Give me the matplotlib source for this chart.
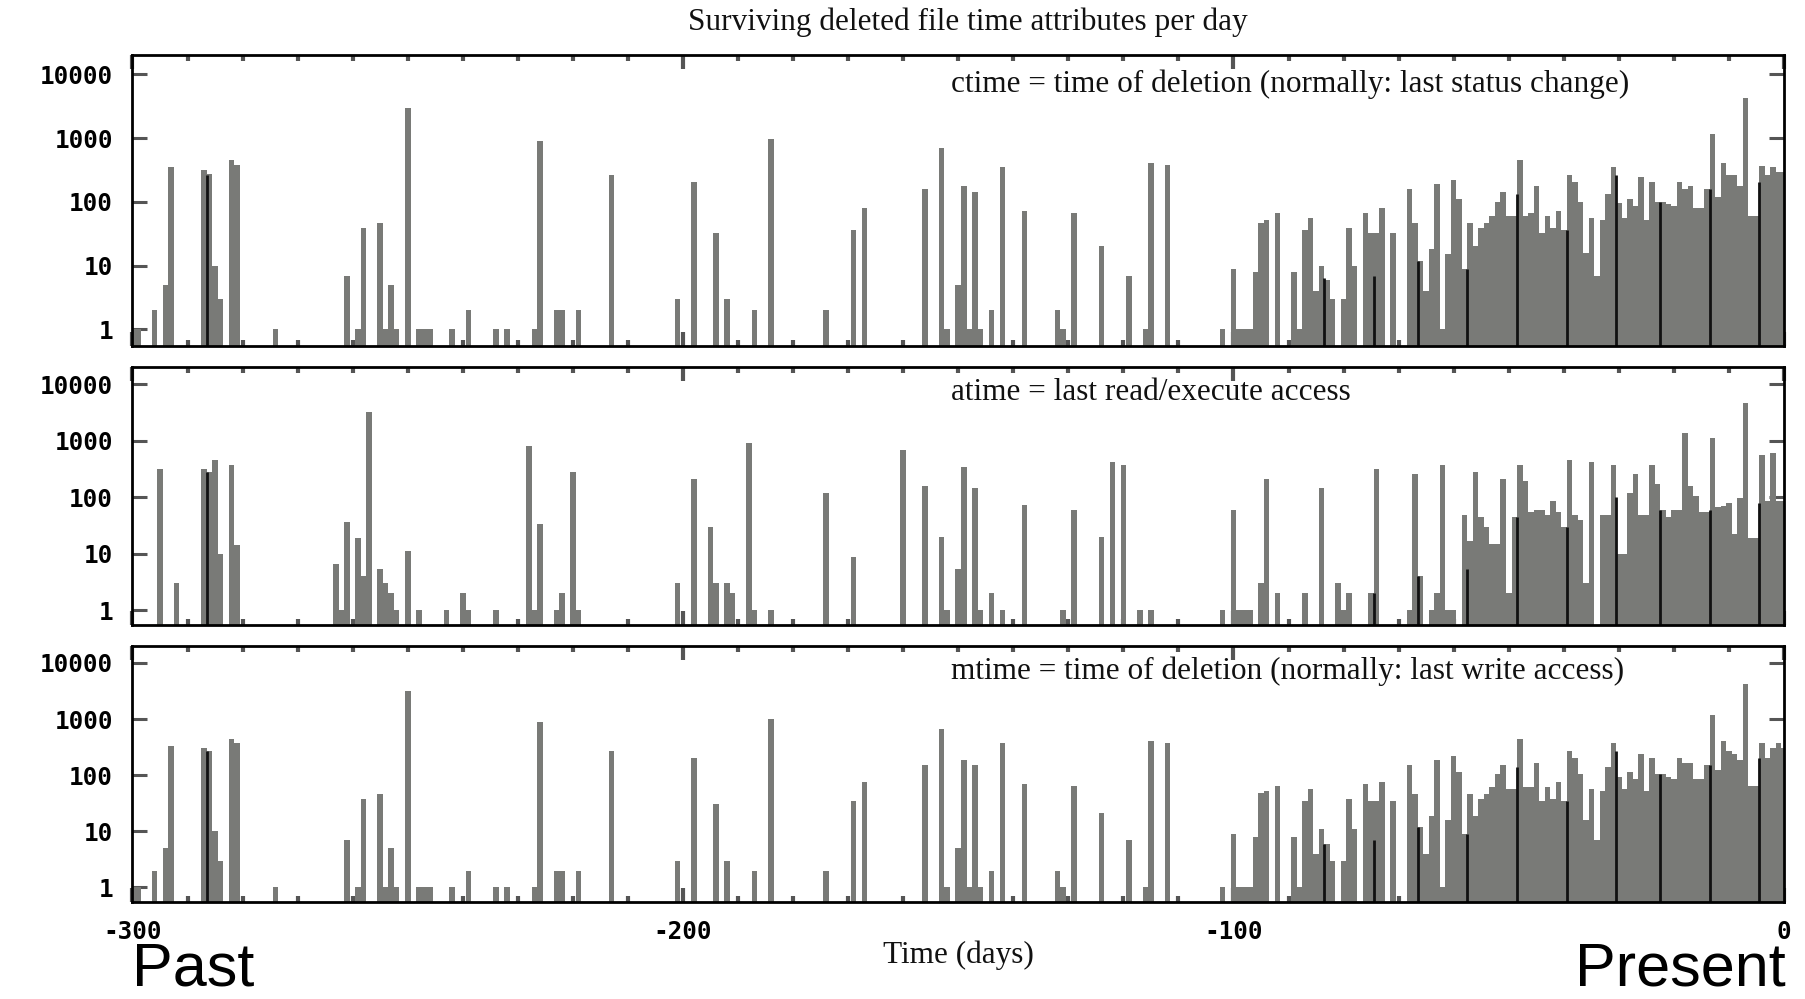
import numpy as np
import matplotlib
matplotlib.use("Agg")
import matplotlib.pyplot as plt
from matplotlib.ticker import FixedLocator, MultipleLocator, NullLocator

# ------------------------------------------------------------
# data: day (relative to present) and number of files that day
# ------------------------------------------------------------
ctime_days = [-300, -299, -296, -294, -293, -287, -286, -285, -284, -282, -281, -274,
              -261, -259, -258, -255, -254, -253, -252, -250, -248, -247, -246, -242,
              -239, -234, -232, -227, -226, -223, -222, -219, -213, -201, -198, -194,
              -192, -187, -184, -174, -169, -167, -156, -153, -152, -150, -149, -148,
              -147, -146, -144, -142, -138, -132, -131, -129, -124, -119, -116, -115,
              -112,
              -102, -100, -99, -98, -97, -96, -95, -94, -92, -89, -88, -87, -86, -85,
              -84, -83, -82, -80, -79, -78, -76, -75, -74, -73, -71, -68, -67, -66,
              -65, -64, -63, -62, -61, -60, -59, -58, -57, -56, -55, -54, -53, -52,
              -51, -50, -49, -48, -47, -46, -45, -44, -43, -42, -41, -40, -39, -38,
              -37, -36, -35, -34, -33, -32, -31, -30, -29, -28, -27, -26, -25, -24,
              -23, -22, -21, -20, -19, -18, -17, -16, -15, -14, -13, -12, -11, -10,
              -9, -8, -7, -6, -5, -4, -3, -2, -1, 0]
ctime_counts = [1, 1, 2, 5, 350, 310, 270, 10, 3, 450, 380, 1,
                7, 1, 39, 47, 1, 5, 1, 3000, 1, 1, 1, 1,
                2, 1, 1, 1, 900, 2, 2, 2, 260, 3, 205, 33,
                3, 2, 980, 2, 36, 80, 158, 705, 1, 5, 175, 1,
                145, 1, 2, 350, 72, 2, 1, 66, 20, 7, 1, 405,
                375,
                1, 9, 1, 1, 1, 8, 47, 51, 66, 8, 1, 36, 56, 4,
                10, 6, 3, 3, 39, 10, 66, 33, 33, 79, 33, 158, 46, 12,
                4, 18, 190, 1, 15, 220, 111, 9, 47, 20, 39, 47, 61, 100,
                145, 61, 61, 450, 61, 66, 175, 33, 61, 39, 72, 36, 265, 205,
                100, 16, 55, 7, 51, 133, 350, 95, 56, 111, 87, 245, 51, 205,
                100, 100, 93, 87, 205, 158, 175, 79, 79, 157, 1150, 121, 405, 265,
                265, 175, 4200, 61, 61, 370, 265, 350, 290, 290]

atime_days = [-295, -292, -287, -286, -285, -284, -282, -281, -263, -262, -261, -259,
              -258, -257, -255, -254, -253, -252, -250, -248, -243, -240, -239, -234,
              -228, -227, -226, -223, -222, -220, -219,
              -201, -198, -195, -194, -192, -191, -188, -187, -184, -174, -169, -160,
              -156, -153, -152, -150, -149, -147, -146, -144, -142, -138, -131, -129,
              -124, -122, -120, -117, -115,
              -102, -100, -99, -98, -97, -95, -94, -92, -87, -84, -81, -80, -79, -75,
              -74, -68, -67, -66, -64, -63, -62, -61, -60, -58, -57, -56, -55, -54,
              -53, -52, -51, -50, -49, -48, -47, -46, -45, -44, -43, -42, -41, -40,
              -39, -38, -37, -36, -35, -33, -32, -31, -30, -29, -28, -27, -26, -25,
              -24, -23, -22, -21, -20, -19, -18, -17, -16, -15, -14, -13, -12, -11,
              -10, -9, -8, -7, -6, -5, -4, -3, -2, -1, 0]
atime_counts = [316, 3, 316, 280, 460, 10, 377, 14, 6.5, 1, 37, 19,
                4, 3160, 5.3, 3, 2, 1, 11, 1, 1, 2, 1, 1,
                815, 1, 34, 1, 2, 283, 1,
                3, 210, 30, 3, 3, 2, 890, 1, 1, 118, 8.7, 680,
                156, 20, 1, 5.3, 340, 144, 1, 2, 1, 73, 1, 60,
                20, 414, 377, 1, 1,
                1, 60, 1, 1, 1, 3, 210, 2, 2, 144, 3, 1, 2, 2,
                316, 1, 257, 4, 1, 2, 377, 1, 1, 49, 17, 283, 45, 30,
                15, 15, 210, 2, 45, 377, 191, 54, 60, 60, 49, 87, 54, 30,
                457, 49, 40, 3, 414, 49, 49, 377, 10, 10, 117, 257, 49, 49,
                377, 172, 60, 45, 60, 60, 1350, 156, 107, 54, 54, 1100, 66, 71,
                80, 22, 97, 4600, 19, 19, 560, 87, 600, 87, 87]

mtime_days = [-300, -299, -296, -294, -293, -287, -286, -285, -284, -282, -281, -274,
              -261, -259, -258, -255, -254, -253, -252, -250, -248, -247, -246, -242,
              -239, -234, -232, -227, -226, -223, -222, -219, -213, -201, -198, -194,
              -192, -187, -184, -174, -169, -167, -156, -153, -152, -150, -149, -148,
              -147, -146, -144, -142, -138, -132, -131, -129, -124, -119, -116, -115,
              -112,
              -102, -100, -99, -98, -97, -96, -95, -94, -92, -89, -88, -87, -86, -85,
              -84, -83, -82, -80, -79, -78, -76, -75, -74, -73, -71, -68, -67, -66,
              -65, -64, -63, -62, -61, -60, -59, -58, -57, -56, -55, -54, -53, -52,
              -51, -50, -49, -48, -47, -46, -45, -44, -43, -42, -41, -40, -39, -38,
              -37, -36, -35, -34, -33, -32, -31, -30, -29, -28, -27, -26, -25, -24,
              -23, -22, -21, -20, -19, -18, -17, -16, -15, -14, -13, -12, -11, -10,
              -9, -8, -7, -6, -5, -4, -3, -2, -1, 0]
mtime_counts = [1, 1, 2, 5, 330, 300, 270, 10, 3, 440, 370, 1,
                7, 1, 38, 47, 1, 5, 1, 3150, 1, 1, 1, 1,
                2, 1, 1, 1, 890, 2, 2, 2, 270, 3, 204, 31,
                3, 2, 1020, 2, 35, 76, 150, 660, 1, 5, 184, 1,
                150, 1, 2, 368, 69, 2, 1, 64, 21, 7, 1, 400,
                368,
                1, 9, 1, 1, 1, 8, 48, 52, 64, 8, 1, 35, 56, 4,
                11, 6, 3, 3, 38, 11, 69, 35, 35, 76, 35, 150, 47, 12,
                4, 19, 184, 1, 16, 220, 112, 9, 47, 19, 38, 47, 62, 103,
                150, 56, 56, 440, 62, 62, 166, 35, 62, 38, 76, 35, 266, 204,
                103, 16, 56, 7, 52, 137, 368, 93, 56, 112, 84, 243, 52, 204,
                103, 103, 93, 84, 204, 166, 166, 84, 84, 150, 1170, 123, 400, 266,
                243, 184, 4200, 64, 64, 368, 204, 300, 368, 300]

# dark box borders that show through between some bars
ctime_edge_days = [-286.5, -83.5, -74.5, -66.5, -57.5, -48.5, -39.5, -30.5, -22.5, -13.5, -4.5]
ctime_edge_vals = [267, 6.4, 7, 12, 9, 133, 36, 265, 100, 157, 207]
atime_edge_days = [-286.5, -74.5, -66.5, -57.5, -48.5, -39.5, -30.5, -22.5, -13.5, -4.5]
atime_edge_vals = [280, 2, 4, 5.3, 45, 30, 100, 60, 60, 80]
mtime_edge_days = [-286.5, -83.5, -74.5, -66.5, -57.5, -48.5, -39.5, -30.5, -22.5, -13.5, -4.5]
mtime_edge_vals = [270, 6, 7, 12, 9, 137, 35, 270, 103, 150, 204]

labels = ["ctime = time of deletion (normally: last status change)",
          "atime = last read/execute access",
          "mtime = time of deletion (normally: last write access)"]

y_ticks = [1, 10, 100, 1000, 10000]
y_ticklabels = ["1", "10", "100", "1000", "10000"]
x_ticks = [-300, -200, -100, 0]
x_ticklabels = ["-300", "-200", "-100", "0"]

# ------------------------------------------------------------
# plot
# ------------------------------------------------------------
W, H = 1806, 999
fig = plt.figure(figsize=(W / 100, H / 100), dpi=100)

bar_color = "#797a77"
tick_color = "#555555"
serif = ["Liberation Serif", "DejaVu Serif"]
mono = "DejaVu Sans Mono"
ymin, ymax = 0.55, 20000
serif_size = 22.5
mono_size = 17.5

# axes boxes in pixels: (top, bottom)
boxes = [(55, 346), (367, 625), (646, 902)]
left_px, right_px = 132.5, 1784

panels = [(ctime_days, ctime_counts, ctime_edge_days, ctime_edge_vals),
          (atime_days, atime_counts, atime_edge_days, atime_edge_vals),
          (mtime_days, mtime_counts, mtime_edge_days, mtime_edge_vals)]

for i, (days, counts, e_days, e_vals) in enumerate(panels):
    top, bot = boxes[i]
    ax = fig.add_axes([left_px / W, 1 - bot / H, (right_px - left_px) / W, (bot - top) / H])

    ax.bar(days, counts, width=1.0, color=bar_color, edgecolor="none", log=True, zorder=2)
    ax.vlines(e_days, ymin, e_vals, color="#111111", linewidth=2.0, zorder=3)

    ax.set_xlim(-300, 0)
    ax.set_ylim(ymin, ymax)

    ax.yaxis.set_major_locator(FixedLocator(y_ticks))
    ax.yaxis.set_minor_locator(NullLocator())
    ax.set_yticklabels(y_ticklabels, fontfamily=mono, fontweight="bold", fontsize=mono_size)

    ax.xaxis.set_major_locator(FixedLocator(x_ticks))
    ax.xaxis.set_minor_locator(MultipleLocator(10))
    if i == 2:
        ax.set_xticklabels(x_ticklabels, fontfamily=mono, fontweight="bold", fontsize=mono_size)
    else:
        ax.set_xticklabels([])

    ax.tick_params(axis="y", which="major", direction="in", left=True, right=True,
                   length=11, width=2.2, color=tick_color, pad=14)
    ax.tick_params(axis="x", which="major", direction="in", top=True, bottom=True,
                   length=10, width=3, color=tick_color, pad=13)
    ax.tick_params(axis="x", which="minor", direction="in", top=True, bottom=True,
                   length=4.5, width=3, color=tick_color)

    for s in ax.spines.values():
        s.set_linewidth(2.0)
        s.set_color("black")
        s.set_zorder(4)

    ax.text(0.4956, 0.90, labels[i], transform=ax.transAxes, ha="left", va="center",
            fontfamily=serif, fontsize=serif_size, color="#111111")

fig.text(958 / W, 1 - 955 / H, "Time (days)", ha="center", va="center",
         fontfamily=serif, fontsize=serif_size, color="#111111")

fig.text(968 / W, 1 - 22 / H, "Surviving deleted file time attributes per day",
         ha="center", va="center", fontfamily=serif, fontsize=serif_size, color="#111111")

fig.text(132 / W, 0.001, "Past", ha="left", va="bottom",
         fontfamily="Liberation Sans", fontsize=44)
fig.text(1786 / W, 0.001, "Present", ha="right", va="bottom",
         fontfamily="Liberation Sans", fontsize=44)

plt.savefig("out.png", dpi=100)
